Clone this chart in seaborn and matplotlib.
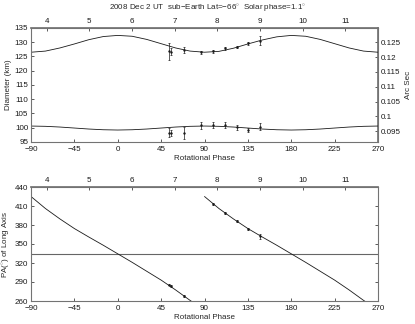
import matplotlib
matplotlib.use("Agg")
import matplotlib.pyplot as plt
import matplotlib.ticker as mticker
import seaborn as sns

# model curves
model_phase = [-90, -75, -60, -45, -30, -15, 0, 15, 30, 45, 60, 75, 90,
               105, 120, 135, 150, 165, 180, 195, 210, 225, 240, 255, 270]
model_long_km = [126.5, 126.9, 128.0, 129.4, 130.9, 132.0, 132.4, 132.1, 131.0,
                 129.5, 128.0, 126.9, 126.5, 126.8, 127.9, 129.4, 130.8, 131.9,
                 132.4, 132.1, 131.0, 129.5, 128.0, 126.9, 126.5]
model_short_km = [100.6, 100.5, 100.25, 99.9, 99.55, 99.3, 99.2, 99.3, 99.55,
                  99.9, 100.25, 100.5, 100.6, 100.5, 100.25, 99.9, 99.55, 99.3,
                  99.2, 99.3, 99.55, 99.9, 100.25, 100.5, 100.6]

pa_phase_1 = [-90, -75, -60, -45, -30, -15, 0, 15, 30, 45, 60, 75, 78]
pa_model_1 = [425, 406, 389.6, 374.4, 361, 348, 334.5, 321, 307, 293, 277.5, 261, 258]
pa_phase_2 = [90, 105, 120, 135, 150, 165, 180, 195, 210, 225, 240, 255, 258]
pa_model_2 = [425, 406, 389.6, 374.4, 361, 348, 334.5, 321, 307, 293, 277.5, 261, 258]
pole_pa = 334

# observations
obs_phase = [53, 55.5, 69, 86.5, 99, 111, 123.5, 135.5, 147.5]
obs_long = [126.9, 126.7, 127.2, 126.5, 126.9, 127.9, 128.4, 129.6, 130.6]
obs_long_err = [3.0, 1.3, 1.0, 0.6, 0.5, 0.5, 0.4, 0.6, 1.7]
obs_short = [98.3, 98.1, 98.2, 100.8, 101.0, 101.0, 100.1, 99.3, 100.4]
obs_short_err = [1.7, 1.05, 2.2, 1.1, 1.1, 1.0, 0.9, 0.7, 1.2]

obs_pa_phase = [53, 55.5, 69, 99, 111, 123.5, 135.5, 147.5]
obs_pa = [286, 283.5, 268.5, 413, 399.5, 386.5, 374, 362]
obs_pa_err = [1.5, 1.5, 1.5, 1.5, 1.5, 1.5, 1.5, 4.0]

phase_ticks = list(range(-90, 271, 45))
hour_ticks = [4, 5, 6, 7, 8, 9, 10, 11]

# scale conversions
HOUR0_PHASE = -73.7
DEG_PER_HOUR = 44.25
KM_PER_ARCSEC = 1040.0
FS = 5.8


def phase_to_hour(p):
    return 4 + (p - HOUR0_PHASE) / DEG_PER_HOUR


def hour_to_phase(h):
    return HOUR0_PHASE + (h - 4) * DEG_PER_HOUR


sns.set_theme(style="ticks")
plt.rcParams['font.family'] = ['Liberation Sans', 'DejaVu Sans']
plt.rcParams['mathtext.fontset'] = 'custom'
plt.rcParams['mathtext.rm'] = 'Liberation Sans'
plt.rcParams['mathtext.it'] = 'Liberation Sans'
plt.rcParams['font.size'] = FS

fig = plt.figure(figsize=(4.15, 3.24), dpi=100)
ax1 = fig.add_axes([31/415, 1 - 142/324, 347/415, 114/324])
ax2 = fig.add_axes([31/415, 1 - 301/324, 347/415, 114/324])

tick_kw = dict(direction='in', length=2.5, width=0.5, labelsize=FS, pad=2,
               colors='k')


def style_axes(ax):
    for s in ax.spines.values():
        s.set_color('0.45')
        s.set_linewidth(0.8)
    ax.tick_params(**tick_kw)
    ax.tick_params(axis='x', pad=2.8)


# top panel: diameters
sns.lineplot(x=model_phase, y=model_long_km, ax=ax1, color='k', lw=0.6)
sns.lineplot(x=model_phase, y=model_short_km, ax=ax1, color='k', lw=0.6)
for y, e in [(obs_long, obs_long_err), (obs_short, obs_short_err)]:
    ax1.errorbar(obs_phase, y, yerr=e, fmt='none', ecolor='k',
                 elinewidth=0.5, capsize=1.0, capthick=0.5)
    sns.scatterplot(x=obs_phase, y=y, ax=ax1, color='k', s=3, linewidth=0)

ax1.set_xlim(-90, 270)
ax1.set_ylim(95, 135)
ax1.set_xticks(phase_ticks)
ax1.set_yticks(range(95, 136, 5))
ax1.set_xlabel('Rotational Phase', fontsize=FS, labelpad=1.2)
ax1.set_ylabel('Diameter (km)', fontsize=FS)
ax1.yaxis.set_label_coords(-19/347, 0.5)
style_axes(ax1)

top1 = ax1.secondary_xaxis('top', functions=(phase_to_hour, hour_to_phase))
top1.set_xticks(hour_ticks)
top1.tick_params(**tick_kw)
top1.spines['top'].set_color('0.45')

right1 = ax1.secondary_yaxis('right', functions=(lambda k: k / KM_PER_ARCSEC,
                                                 lambda a: a * KM_PER_ARCSEC))
right1.set_yticks([0.095, 0.1, 0.105, 0.11, 0.115, 0.12, 0.125])
right1.yaxis.set_major_formatter(mticker.FuncFormatter(lambda v, _: f'{v:g}'))
right1.tick_params(**tick_kw)
right1.spines['right'].set_color('0.45')
right1.set_ylabel('Arc Sec', fontsize=FS, labelpad=3)

# bottom panel: position angle
ax2.axhline(pole_pa, color='0.4', lw=0.8)
sns.lineplot(x=pa_phase_1, y=pa_model_1, ax=ax2, color='k', lw=0.6)
sns.lineplot(x=pa_phase_2, y=pa_model_2, ax=ax2, color='k', lw=0.6)
ax2.errorbar(obs_pa_phase, obs_pa, yerr=obs_pa_err, fmt='none', ecolor='k',
             elinewidth=0.5, capsize=1.0, capthick=0.5)
sns.scatterplot(x=obs_pa_phase, y=obs_pa, ax=ax2, color='k', s=3, linewidth=0)

ax2.set_xlim(-90, 270)
ax2.set_ylim(260, 440)
ax2.set_xticks(phase_ticks)
ax2.set_yticks(range(260, 441, 30))
ax2.set_xlabel('Rotational Phase', fontsize=FS, labelpad=1.2)
ax2.set_ylabel(r'PA($^{\circ}$) of Long Axis', fontsize=FS)
ax2.yaxis.set_label_coords(-19/347, 0.5)
style_axes(ax2)
ax2.tick_params(axis='y', right=True)

top2 = ax2.secondary_xaxis('top', functions=(phase_to_hour, hour_to_phase))
top2.set_xticks(hour_ticks)
top2.tick_params(**tick_kw)
top2.spines['top'].set_color('0.45')

fig.text(0.5, 1 - 8/324,
         r'2008 Dec 2 UT  sub$-$Earth Lat=$-$66$^{\circ}$  Solar phase=1.1$^{\circ}$',
         ha='center', va='center', fontsize=FS)

fig.savefig('out.png', dpi=100)
